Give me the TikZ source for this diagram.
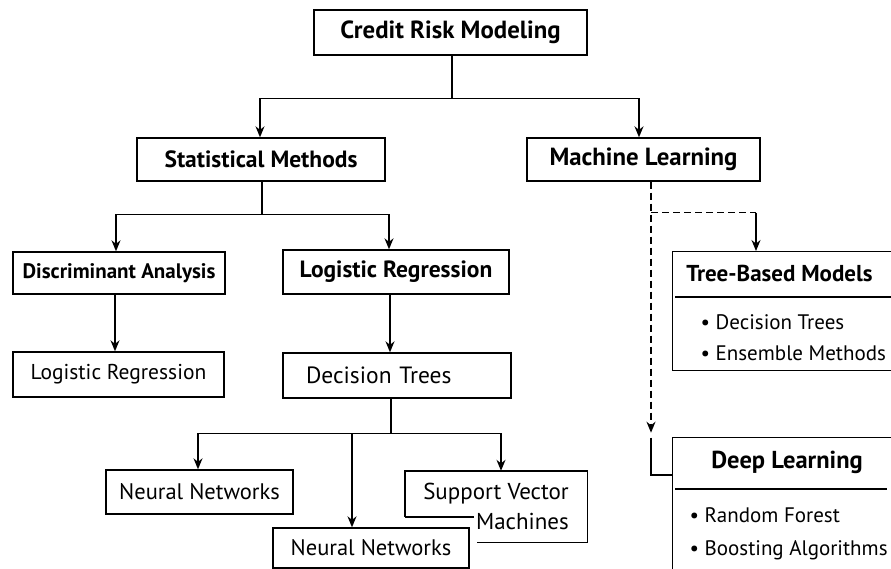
\documentclass[tikz,border=0pt]{standalone}
\usepackage{fontspec}
\setmainfont{PT Sans}
\usetikzlibrary{arrows.meta,positioning,calc}

\begin{document}
\begin{tikzpicture}[
            x=1pt, y=-1pt,
            every node/.style={font=\fontsize{22.5}{27}\selectfont},
            box/.style={rectangle, draw, line width=1.4pt, inner sep=0pt, fill=white},
            head_box/.style={box, font=\bfseries\fontsize{23.5}{28}\selectfont},
            big_head/.style={font=\bfseries\fontsize{24.8}{29}\selectfont},
            head_text/.style={font=\bfseries\fontsize{23.5}{28}\selectfont},
            item_text/.style={anchor=west, font=\fontsize{21}{25}\selectfont},
            conn/.style={line width=1.4pt},
            arr/.style={conn, -{Stealth[length=11pt,width=9pt]}},
            dash_line/.style={conn, dash pattern=on 7pt off 4pt}
        ]
            \fill[white] (0,0) rectangle (891,568);
            \clip (0,0) rectangle (891,568);

            % The boxes
            \node[head_box, big_head, minimum width=273, minimum height=45] (crm) at (450.5,32.5) {Credit Risk Modeling};
            \node[head_box, minimum width=248, minimum height=43] (stat) at (261,159.5) {Statistical Methods};
            \node[head_box, big_head, minimum width=233, minimum height=43] (ml) at (643.5,159.5) {Machine Learning};
            \node[head_box, minimum width=212, minimum height=42, font=\bfseries\fontsize{21}{25}\selectfont] (disc) at (119,273) {Discriminant Analysis};
            \node[head_box, minimum width=226, minimum height=44] (logreg_b) at (396,272) {Logistic Regression};
            \node[box, minimum width=211, minimum height=45, font=\fontsize{21.5}{26}\selectfont] (logreg) at (118.5,374.5) {Logistic Regression};
            \node[box, minimum width=228, minimum height=45, text width=182, inner xsep=23, align=left,
                  font=\fontsize{23.5}{28}\selectfont] (dtree) at (397,375.5) {Decision Trees};
            \node[box, minimum width=187, minimum height=44] (nn_a) at (199.5,492) {Neural Networks};
            \node[minimum width=182, minimum height=71, inner sep=0pt, align=right,
                  font=\fontsize{23}{30}\selectfont] (svm) at (496,506.5) {Support Vector\\Machines};
            \draw[conn] ([yshift=-46pt]svm.north west) -- (svm.north west) -- (svm.north east) -- (svm.south east) -- ([xshift=-110pt]svm.south east);
            \draw[conn] ([yshift=-46pt]svm.north west) -- ++(69,0);
            \node[box, minimum width=196, minimum height=40] (nn_b) at (371,548) {Neural Networks};

            % Machine learning panels
            \node[box, anchor=north west, minimum width=240, minimum height=119] (tbm) at (672,251) {};
            \node[head_text, font=\bfseries\fontsize{23}{27}\selectfont] (tbm_title) at (779.5,273) {Tree-Based Models};
            \draw[conn] ([xshift=3pt,yshift=-46pt]tbm.north west) -- ([yshift=-46pt]tbm.north east);
            \node[item_text] (tbm_1) at (697,322) {• Decision Trees};
            \node[item_text] (tbm_2) at (697,353) {• Ensemble Methods};

            \node[box, anchor=north west, minimum width=240, minimum height=160] (dl) at (672,437) {};
            \node[head_text, font=\bfseries\fontsize{24.5}{29}\selectfont] (dl_title) at (787,462) {Deep Learning};
            \draw[conn] ([xshift=3pt,yshift=-52pt]dl.north west) -- ([xshift=215pt,yshift=-52pt]dl.north west);
            \node[item_text] (dl_1) at (686,515) {• Random Forest};
            \node[item_text] (dl_2) at (686,550) {• Boosting Algorithms};

            % Connectors
            \draw[conn] ([xshift=1.5pt]crm.south) -- ++(0,43) coordinate (top_split);
            \draw[arr] (top_split) -| ([xshift=-1pt]stat.north);
            \draw[arr] (top_split) -| ([xshift=-4.5pt]ml.north);

            \draw[conn] ([xshift=1pt]stat.south) -- ++(0,33) coordinate (stat_split);
            \draw[arr] (stat_split) -| ([xshift=-3pt]disc.north);
            \draw[arr] (stat_split) -| ([xshift=-7pt]logreg_b.north);
            \draw[arr] ([xshift=-4pt]disc.south) -- ([xshift=-4pt]disc.south |- logreg.north);
            \draw[arr] ([xshift=-6pt]logreg_b.south) -- ([xshift=-6pt]logreg_b.south |- dtree.north);

            \draw[conn] ([xshift=-6pt]dtree.south) -- ++(0,35) coordinate (dt_split);
            \draw[arr] (dt_split) -| ([xshift=-1.5pt]nn_a.north);
            \draw[arr] (dt_split) -| ([xshift=-19pt]nn_b.north);
            \draw[arr] (dt_split) -| ([xshift=5pt]svm.north);

            \draw[dash_line, -{Stealth[length=11pt,width=9pt]}] ([xshift=7.5pt]ml.south) -- ++(0,251) coordinate (dl_in);
            \draw[dash_line] ([xshift=7.5pt,yshift=-31pt]ml.south) coordinate (ml_split) -- ++(105,0) coordinate (tbm_in);
            \draw[arr] (tbm_in) -- (tbm_in |- tbm.north);
            \draw[conn] ($(dl_in)+(0,5)$) |- ([yshift=-38pt]dl.north west);
        \end{tikzpicture}
\end{document}
